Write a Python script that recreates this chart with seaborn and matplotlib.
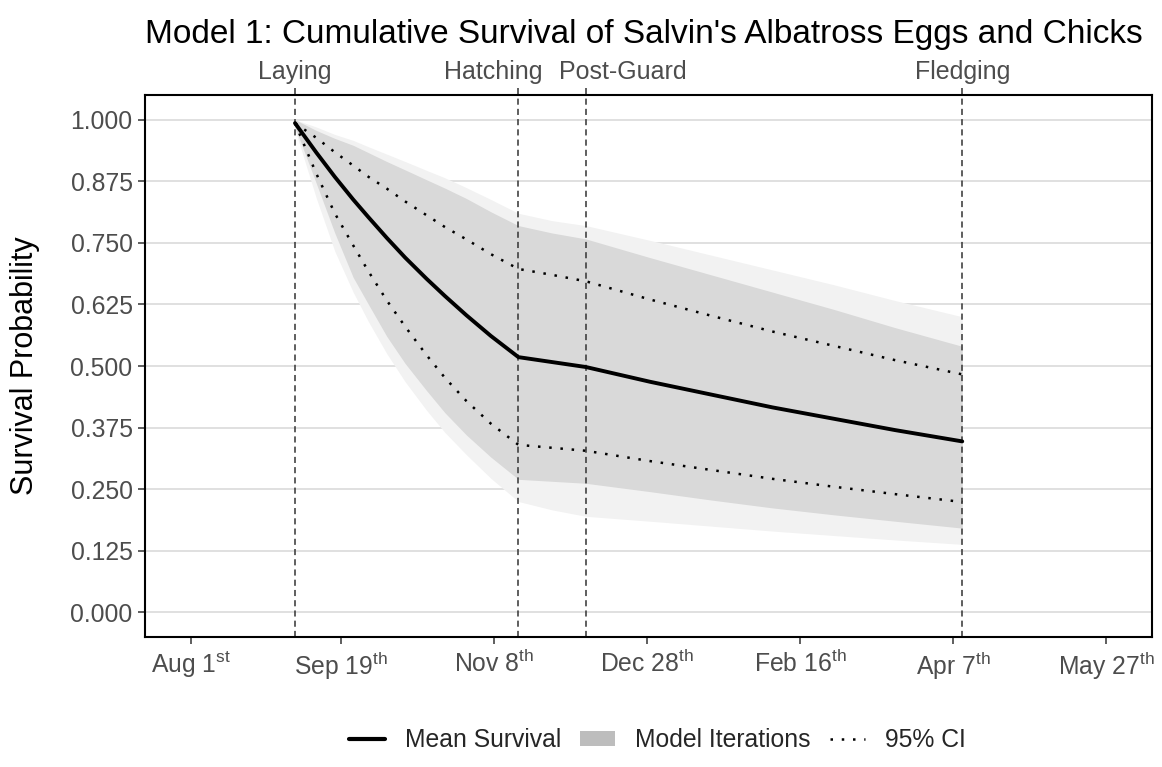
import matplotlib
matplotlib.use("Agg")
import matplotlib.pyplot as plt
import seaborn as sns
import pandas as pd
from matplotlib.lines import Line2D
from matplotlib.patches import Patch

# ---------------- data ----------------
stage_names = ["Laying", "Hatching", "Post-Guard", "Fledging"]
stage_days = [34, 107, 129, 252]          # days after Aug 1st

tick_days = [0, 49, 99, 149, 199, 249, 299]
tick_labels = [r"Aug 1$^{\mathrm{st}}$", r"Sep 19$^{\mathrm{th}}$", r"Nov 8$^{\mathrm{th}}$",
               r"Dec 28$^{\mathrm{th}}$", r"Feb 16$^{\mathrm{th}}$", r"Apr 7$^{\mathrm{th}}$",
               r"May 27$^{\mathrm{th}}$"]

days = [34, 41, 47, 53, 58, 64, 70, 77, 83, 90, 98, 107, 118, 129, 150, 170, 190, 210, 230, 252]
mean_surv = [0.993, 0.933, 0.884, 0.838, 0.802, 0.760, 0.720, 0.677, 0.642, 0.603, 0.561,
             0.518, 0.508, 0.498, 0.468, 0.442, 0.416, 0.393, 0.370, 0.347]
ci_lower = [0.993, 0.890, 0.810, 0.745, 0.692, 0.633, 0.580, 0.522, 0.476, 0.429, 0.383,
            0.340, 0.334, 0.328, 0.307, 0.289, 0.271, 0.255, 0.240, 0.224]
ci_upper = [0.993, 0.963, 0.934, 0.907, 0.884, 0.860, 0.834, 0.806, 0.782, 0.757, 0.727,
            0.697, 0.685, 0.672, 0.635, 0.602, 0.570, 0.541, 0.512, 0.483]
# envelope of the model iterations (dense core and faint outer edge)
iter_core_low = [0.985, 0.870, 0.770, 0.680, 0.625, 0.560, 0.505, 0.450, 0.405, 0.360, 0.315,
                 0.270, 0.266, 0.262, 0.245, 0.228, 0.212, 0.198, 0.185, 0.171]
iter_core_high = [1.000, 0.978, 0.962, 0.948, 0.933, 0.915, 0.898, 0.878, 0.861, 0.840, 0.813,
                  0.785, 0.770, 0.758, 0.720, 0.685, 0.650, 0.615, 0.578, 0.540]
iter_outer_low = [0.980, 0.840, 0.733, 0.650, 0.590, 0.525, 0.468, 0.410, 0.365, 0.320, 0.272,
                  0.225, 0.208, 0.195, 0.185, 0.175, 0.165, 0.156, 0.147, 0.138]
iter_outer_high = [1.000, 0.985, 0.970, 0.958, 0.945, 0.930, 0.915, 0.897, 0.882, 0.862, 0.838,
                   0.810, 0.795, 0.785, 0.755, 0.725, 0.695, 0.665, 0.633, 0.600]

y_ticks = [0.0, 0.125, 0.25, 0.375, 0.5, 0.625, 0.75, 0.875, 1.0]

df = pd.DataFrame({"day": days, "mean": mean_surv, "lower": ci_lower, "upper": ci_upper})

# label nudges (points) for the stage names above the panel
stage_nudge = [0, -18, 27, 0]

# ---------------- style ----------------
sns.set_theme(style="white")
plt.rcParams["font.family"] = ["Liberation Sans", "DejaVu Sans"]
plt.rcParams["mathtext.fontset"] = "custom"
plt.rcParams["mathtext.rm"] = "Liberation Sans"
plt.rcParams["mathtext.it"] = "Liberation Sans:italic"
plt.rcParams["mathtext.bf"] = "Liberation Sans:bold"

fig, ax = plt.subplots(figsize=(11.62, 7.67), dpi=100)
fig.subplots_adjust(left=0.1248, right=0.9914, top=0.8761, bottom=0.1695)

ax.set_axisbelow(True)
ax.yaxis.grid(True, color="#dadada", lw=1.2)
ax.xaxis.grid(False)

ax.fill_between(days, iter_outer_low, iter_outer_high, color="#f2f2f2", lw=0, zorder=1)
ax.fill_between(days, iter_core_low, iter_core_high, color="#d9d9d9", lw=0, zorder=1.5)

for d in stage_days:
    ax.axvline(d, color="#333333", lw=1.1, linestyle=(0, (4, 2.7)), zorder=2)

dot = (0, (1, 3.5))
sns.lineplot(data=df, x="day", y="lower", color="black", lw=1.8, linestyle=dot, ax=ax, zorder=3)
sns.lineplot(data=df, x="day", y="upper", color="black", lw=1.8, linestyle=dot, ax=ax, zorder=3)
sns.lineplot(data=df, x="day", y="mean", color="black", lw=2.8, ax=ax, zorder=4)

ax.set_xlim(-15, 314)
ax.set_ylim(-0.05, 1.05)
ax.set_xticks(tick_days)
ax.set_xticklabels(tick_labels)
ax.set_yticks(y_ticks)
ax.set_yticklabels([f"{v:.3f}" for v in y_ticks])
ax.tick_params(axis="both", bottom=True, left=True, length=5, width=1.1, color="#333333",
               labelsize=17.8, labelcolor="#4d4d4d", pad=4)
ax.set_xlabel("")
ax.set_ylabel("Survival Probability", fontsize=22, color="black")
ax.yaxis.set_label_coords(-0.104, 0.5)

for sp in ax.spines.values():
    sp.set_color("black")
    sp.set_linewidth(1.5)

sec = ax.secondary_xaxis("top")
sec.set_xticks(stage_days)
sec.set_xticklabels([])
sec.tick_params(length=5, width=1.1, color="#333333")
sec.spines["top"].set_visible(False)

for name, d, dx in zip(stage_names, stage_days, stage_nudge):
    ax.annotate(name, xy=(d, 1), xycoords=("data", "axes fraction"), xytext=(dx, 11.5),
                textcoords="offset points", ha="center", va="baseline",
                fontsize=18, color="#4d4d4d", annotation_clip=False)

fig.text(0.554, 0.955, "Model 1: Cumulative Survival of Salvin's Albatross Eggs and Chicks",
         ha="center", va="center", fontsize=24, color="black")

handles = [Line2D([0], [0], color="black", lw=3),
           Patch(facecolor="#bdbdbd", edgecolor="none"),
           Line2D([0], [0], color="black", lw=1.8, linestyle=dot)]
fig.legend(handles, ["Mean Survival", "Model Iterations", "95% CI"], loc="center",
           bbox_to_anchor=(0.566, 0.035), ncol=3, frameon=False, fontsize=17.8,
           handlelength=1.43, handleheight=0.55, columnspacing=0.76, handletextpad=0.82)

fig.savefig("out.png", dpi=100)
